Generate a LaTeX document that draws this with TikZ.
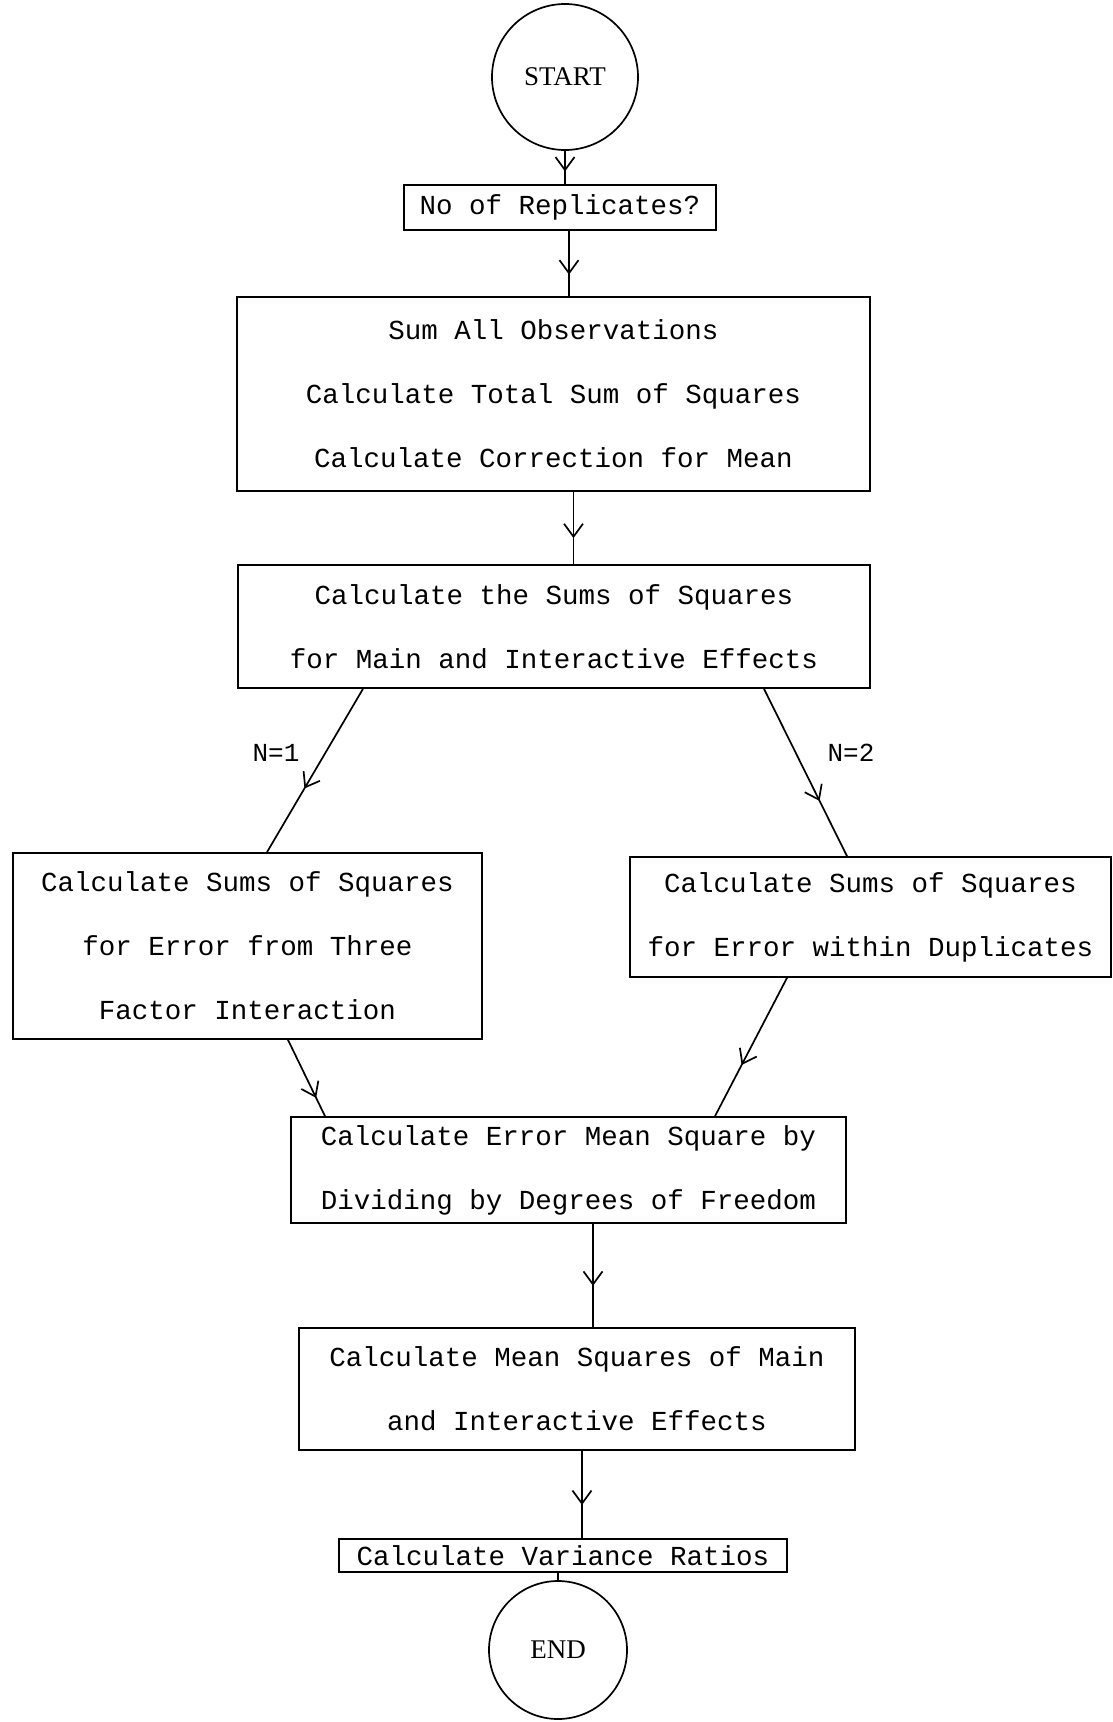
\documentclass[tikz,border=0pt]{standalone}
\usepackage{fontspec}
\setmainfont{Liberation Serif}
\setmonofont{Liberation Mono}
\usetikzlibrary{arrows.meta,decorations.markings}
\begin{document}
\begin{tikzpicture}[x=1pt, y=-1pt, line width=1.7pt,
    term/.style={draw, circle, font=\fontsize{27}{30}\selectfont},
    proc/.style={draw, inner sep=0pt, align=center, font=\ttfamily\fontsize{27.5}{64}\selectfont},
    lbl/.style={font=\ttfamily\fontsize{26}{30}\selectfont},
    flow/.style={postaction={decorate}, decoration={markings,
        mark=at position #1 with {\arrow{Straight Barb[length=13pt,width=19pt,line width=1.7pt]}}}},
    flow/.default=0.62]
    \useasboundingbox (0,0) rectangle (1113,1722);
    \node[term, minimum size=146pt] (start) at (565,77) {START};
    \node[proc, minimum width=312pt, minimum height=45pt] (rep) at (560,207.5) {No of Replicates?};
    \node[proc, minimum width=633pt, minimum height=194pt] (sum) at (553.5,394) {Sum All Observations\\Calculate Total Sum of Squares\\Calculate Correction for Mean};
    \node[proc, minimum width=632pt, minimum height=123pt] (eff) at (554,626.5) {Calculate the Sums of Squares\\for Main and Interactive Effects};
    \node[proc, minimum width=469pt, minimum height=186pt] (three) at (247.5,946) {Calculate Sums of Squares\\for Error from Three\\Factor Interaction};
    \node[proc, minimum width=481pt, minimum height=120pt] (dup) at (870.5,917) {Calculate Sums of Squares\\for Error within Duplicates};
    \node[proc, minimum width=555pt, minimum height=106pt] (err) at (568.5,1170) {Calculate Error Mean Square by\\Dividing by Degrees of Freedom};
    \node[proc, minimum width=556pt, minimum height=122pt] (mean) at (577,1389) {Calculate Mean Squares of Main\\and Interactive Effects};
    \node[proc, minimum width=448pt, minimum height=33pt] (var) at (563,1555.5) {Calculate Variance Ratios};
    \node[term, minimum size=138pt] (end) at (558,1650) {END};
    \node[lbl] (n1) at (276,753) {N=1};
    \node[lbl] (n2) at (851,753) {N=2};
    % connectors
    \draw[flow=0.62] (start.south) -- (start.south |- rep.north);
    \draw[flow=0.67] ([xshift=9pt]rep.south) -- ([xshift=9pt]rep.south |- sum.north);
    \draw[flow=0.64] ([xshift=20pt]sum.south) -- ([xshift=20pt]sum.south |- eff.north);
    \draw[flow=0.61] ([xshift=-191pt]eff.south) -- ([xshift=19.5pt]three.north);
    \draw[flow=0.67] ([xshift=210pt]eff.south) -- ([xshift=-23.5pt]dup.north);
    \draw[flow=0.76] ([xshift=40.5pt]three.south) -- ([xshift=-243.5pt]err.north);
    \draw[flow=0.63] ([xshift=-83.5pt]dup.south) -- ([xshift=146.5pt]err.north);
    \draw[flow=0.6] ([xshift=24.5pt]err.south) -- ([xshift=24.5pt]err.south |- mean.north);
    \draw[flow=0.62] ([xshift=5pt]mean.south) -- ([xshift=5pt]mean.south |- var.north);
    \draw (end.north |- var.south) -- (end.north);
\end{tikzpicture}
\end{document}
